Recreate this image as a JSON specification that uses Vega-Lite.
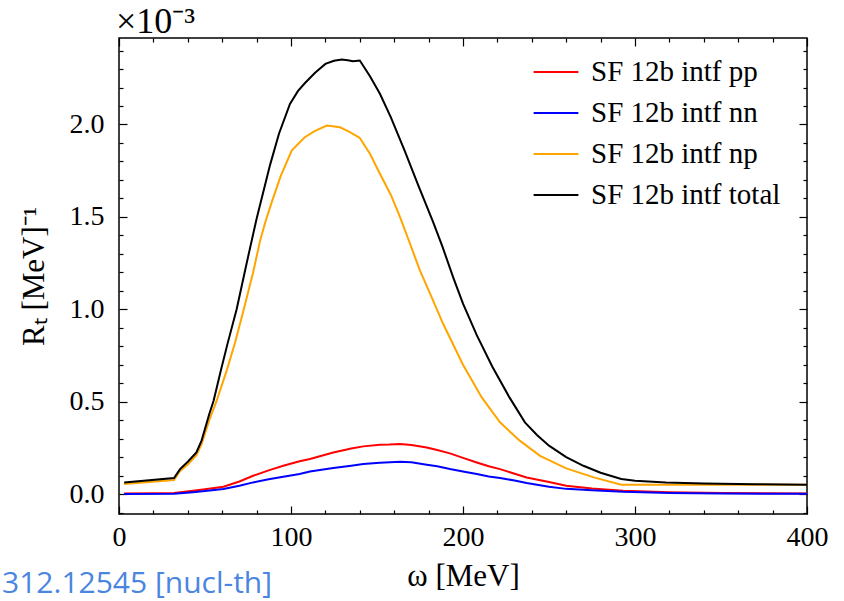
{
  "$schema": "https://vega.github.io/schema/vega-lite/v6.json",
  "width": 688,
  "height": 476,
  "autosize": "none",
  "padding": {"left": 119, "top": 38, "right": 37, "bottom": 87},
  "background": "white",
  "config": {
    "view": {"stroke": "#000", "strokeWidth": 1.5},
    "font": "Liberation Serif",
    "axis": {"domain": false, "grid": false, "tickColor": "#000", "tickWidth": 1.2, "labelColor": "#000", "titleColor": "#000", "labelFont": "Liberation Serif", "titleFont": "Liberation Serif", "labelFontSize": 28, "titleFontSize": 31, "titleFontWeight": "normal", "labelOverlap": false, "labelFlush": false}
  },
  "title": {"text": "×10⁻³", "anchor": "start", "frame": "group", "offset": -4, "dx": -3, "font": "Liberation Serif", "fontSize": 36, "fontWeight": "normal", "color": "#000"},
  "data": {"values": [
    {"s": "SF 12b intf pp", "w": 3, "R": 0.003},
    {"s": "SF 12b intf pp", "w": 20, "R": 0.004},
    {"s": "SF 12b intf pp", "w": 32, "R": 0.006},
    {"s": "SF 12b intf pp", "w": 43, "R": 0.018},
    {"s": "SF 12b intf pp", "w": 50, "R": 0.026},
    {"s": "SF 12b intf pp", "w": 60.7, "R": 0.04},
    {"s": "SF 12b intf pp", "w": 70, "R": 0.068},
    {"s": "SF 12b intf pp", "w": 78, "R": 0.099},
    {"s": "SF 12b intf pp", "w": 87, "R": 0.128},
    {"s": "SF 12b intf pp", "w": 95.5, "R": 0.153},
    {"s": "SF 12b intf pp", "w": 105, "R": 0.177},
    {"s": "SF 12b intf pp", "w": 111, "R": 0.19},
    {"s": "SF 12b intf pp", "w": 124.6, "R": 0.225},
    {"s": "SF 12b intf pp", "w": 135, "R": 0.246},
    {"s": "SF 12b intf pp", "w": 142, "R": 0.258},
    {"s": "SF 12b intf pp", "w": 151.7, "R": 0.267},
    {"s": "SF 12b intf pp", "w": 157, "R": 0.268},
    {"s": "SF 12b intf pp", "w": 163.4, "R": 0.271},
    {"s": "SF 12b intf pp", "w": 170, "R": 0.265},
    {"s": "SF 12b intf pp", "w": 178.9, "R": 0.252},
    {"s": "SF 12b intf pp", "w": 185, "R": 0.238},
    {"s": "SF 12b intf pp", "w": 192.4, "R": 0.22},
    {"s": "SF 12b intf pp", "w": 200, "R": 0.196},
    {"s": "SF 12b intf pp", "w": 208, "R": 0.171},
    {"s": "SF 12b intf pp", "w": 215, "R": 0.15},
    {"s": "SF 12b intf pp", "w": 221.5, "R": 0.135},
    {"s": "SF 12b intf pp", "w": 230, "R": 0.11},
    {"s": "SF 12b intf pp", "w": 237, "R": 0.09},
    {"s": "SF 12b intf pp", "w": 250, "R": 0.065},
    {"s": "SF 12b intf pp", "w": 260, "R": 0.045},
    {"s": "SF 12b intf pp", "w": 275, "R": 0.03},
    {"s": "SF 12b intf pp", "w": 293, "R": 0.018},
    {"s": "SF 12b intf pp", "w": 320, "R": 0.01},
    {"s": "SF 12b intf pp", "w": 350, "R": 0.005},
    {"s": "SF 12b intf pp", "w": 400, "R": 0.003},
    {"s": "SF 12b intf nn", "w": 3, "R": 0.0},
    {"s": "SF 12b intf nn", "w": 32, "R": 0.002},
    {"s": "SF 12b intf nn", "w": 43, "R": 0.01},
    {"s": "SF 12b intf nn", "w": 50, "R": 0.016},
    {"s": "SF 12b intf nn", "w": 60.7, "R": 0.027},
    {"s": "SF 12b intf nn", "w": 70, "R": 0.045},
    {"s": "SF 12b intf nn", "w": 78, "R": 0.063},
    {"s": "SF 12b intf nn", "w": 87, "R": 0.08},
    {"s": "SF 12b intf nn", "w": 95.5, "R": 0.094},
    {"s": "SF 12b intf nn", "w": 105, "R": 0.108},
    {"s": "SF 12b intf nn", "w": 111, "R": 0.122},
    {"s": "SF 12b intf nn", "w": 124.6, "R": 0.141},
    {"s": "SF 12b intf nn", "w": 135, "R": 0.153},
    {"s": "SF 12b intf nn", "w": 142, "R": 0.162},
    {"s": "SF 12b intf nn", "w": 151.7, "R": 0.169},
    {"s": "SF 12b intf nn", "w": 163.4, "R": 0.175},
    {"s": "SF 12b intf nn", "w": 170, "R": 0.172},
    {"s": "SF 12b intf nn", "w": 178.9, "R": 0.159},
    {"s": "SF 12b intf nn", "w": 185, "R": 0.15},
    {"s": "SF 12b intf nn", "w": 192.4, "R": 0.135},
    {"s": "SF 12b intf nn", "w": 200, "R": 0.122},
    {"s": "SF 12b intf nn", "w": 208, "R": 0.108},
    {"s": "SF 12b intf nn", "w": 215, "R": 0.095},
    {"s": "SF 12b intf nn", "w": 221.5, "R": 0.087},
    {"s": "SF 12b intf nn", "w": 230, "R": 0.073},
    {"s": "SF 12b intf nn", "w": 237, "R": 0.06},
    {"s": "SF 12b intf nn", "w": 250, "R": 0.04},
    {"s": "SF 12b intf nn", "w": 260, "R": 0.028},
    {"s": "SF 12b intf nn", "w": 275, "R": 0.02},
    {"s": "SF 12b intf nn", "w": 293, "R": 0.012},
    {"s": "SF 12b intf nn", "w": 320, "R": 0.006},
    {"s": "SF 12b intf nn", "w": 350, "R": 0.003},
    {"s": "SF 12b intf nn", "w": 400, "R": 0.001},
    {"s": "SF 12b intf np", "w": 3, "R": 0.054},
    {"s": "SF 12b intf np", "w": 32, "R": 0.076},
    {"s": "SF 12b intf np", "w": 35.5, "R": 0.125},
    {"s": "SF 12b intf np", "w": 40, "R": 0.16},
    {"s": "SF 12b intf np", "w": 45, "R": 0.21},
    {"s": "SF 12b intf np", "w": 48, "R": 0.27},
    {"s": "SF 12b intf np", "w": 52.5, "R": 0.4},
    {"s": "SF 12b intf np", "w": 56.8, "R": 0.505},
    {"s": "SF 12b intf np", "w": 62.6, "R": 0.668},
    {"s": "SF 12b intf np", "w": 67.5, "R": 0.82},
    {"s": "SF 12b intf np", "w": 72.3, "R": 0.99},
    {"s": "SF 12b intf np", "w": 78, "R": 1.2},
    {"s": "SF 12b intf np", "w": 82, "R": 1.37},
    {"s": "SF 12b intf np", "w": 85, "R": 1.47},
    {"s": "SF 12b intf np", "w": 88.8, "R": 1.58},
    {"s": "SF 12b intf np", "w": 94, "R": 1.72},
    {"s": "SF 12b intf np", "w": 100.4, "R": 1.859},
    {"s": "SF 12b intf np", "w": 108, "R": 1.931},
    {"s": "SF 12b intf np", "w": 114, "R": 1.965},
    {"s": "SF 12b intf np", "w": 120.8, "R": 1.994},
    {"s": "SF 12b intf np", "w": 128.5, "R": 1.985},
    {"s": "SF 12b intf np", "w": 134, "R": 1.96},
    {"s": "SF 12b intf np", "w": 140, "R": 1.927},
    {"s": "SF 12b intf np", "w": 146, "R": 1.84},
    {"s": "SF 12b intf np", "w": 151.7, "R": 1.733},
    {"s": "SF 12b intf np", "w": 158, "R": 1.62},
    {"s": "SF 12b intf np", "w": 163.4, "R": 1.498},
    {"s": "SF 12b intf np", "w": 169, "R": 1.36},
    {"s": "SF 12b intf np", "w": 175, "R": 1.209},
    {"s": "SF 12b intf np", "w": 182, "R": 1.06},
    {"s": "SF 12b intf np", "w": 188.5, "R": 0.92},
    {"s": "SF 12b intf np", "w": 200, "R": 0.7},
    {"s": "SF 12b intf np", "w": 210.9, "R": 0.523},
    {"s": "SF 12b intf np", "w": 221.5, "R": 0.388},
    {"s": "SF 12b intf np", "w": 233, "R": 0.289},
    {"s": "SF 12b intf np", "w": 244.8, "R": 0.207},
    {"s": "SF 12b intf np", "w": 260, "R": 0.139},
    {"s": "SF 12b intf np", "w": 276, "R": 0.09},
    {"s": "SF 12b intf np", "w": 292, "R": 0.05},
    {"s": "SF 12b intf np", "w": 300, "R": 0.05},
    {"s": "SF 12b intf np", "w": 400, "R": 0.05},
    {"s": "SF 12b intf total", "w": 3, "R": 0.063},
    {"s": "SF 12b intf total", "w": 32, "R": 0.087},
    {"s": "SF 12b intf total", "w": 35.5, "R": 0.135},
    {"s": "SF 12b intf total", "w": 40, "R": 0.175},
    {"s": "SF 12b intf total", "w": 45, "R": 0.225},
    {"s": "SF 12b intf total", "w": 48, "R": 0.289},
    {"s": "SF 12b intf total", "w": 52.5, "R": 0.433},
    {"s": "SF 12b intf total", "w": 55, "R": 0.505},
    {"s": "SF 12b intf total", "w": 59, "R": 0.66},
    {"s": "SF 12b intf total", "w": 63, "R": 0.81},
    {"s": "SF 12b intf total", "w": 68.4, "R": 1.0},
    {"s": "SF 12b intf total", "w": 74, "R": 1.24},
    {"s": "SF 12b intf total", "w": 80, "R": 1.49},
    {"s": "SF 12b intf total", "w": 87.8, "R": 1.78},
    {"s": "SF 12b intf total", "w": 93, "R": 1.95},
    {"s": "SF 12b intf total", "w": 99.4, "R": 2.111},
    {"s": "SF 12b intf total", "w": 104, "R": 2.18},
    {"s": "SF 12b intf total", "w": 108, "R": 2.223},
    {"s": "SF 12b intf total", "w": 114, "R": 2.28},
    {"s": "SF 12b intf total", "w": 120, "R": 2.328},
    {"s": "SF 12b intf total", "w": 125, "R": 2.345},
    {"s": "SF 12b intf total", "w": 129.5, "R": 2.351},
    {"s": "SF 12b intf total", "w": 133, "R": 2.348},
    {"s": "SF 12b intf total", "w": 136, "R": 2.342},
    {"s": "SF 12b intf total", "w": 140, "R": 2.346},
    {"s": "SF 12b intf total", "w": 146, "R": 2.26},
    {"s": "SF 12b intf total", "w": 151.7, "R": 2.166},
    {"s": "SF 12b intf total", "w": 158, "R": 2.04},
    {"s": "SF 12b intf total", "w": 166, "R": 1.86},
    {"s": "SF 12b intf total", "w": 174, "R": 1.67},
    {"s": "SF 12b intf total", "w": 182.7, "R": 1.47},
    {"s": "SF 12b intf total", "w": 188, "R": 1.34},
    {"s": "SF 12b intf total", "w": 194.4, "R": 1.17},
    {"s": "SF 12b intf total", "w": 200, "R": 1.03},
    {"s": "SF 12b intf total", "w": 208, "R": 0.86},
    {"s": "SF 12b intf total", "w": 217, "R": 0.69},
    {"s": "SF 12b intf total", "w": 227, "R": 0.523},
    {"s": "SF 12b intf total", "w": 236, "R": 0.388},
    {"s": "SF 12b intf total", "w": 243, "R": 0.32},
    {"s": "SF 12b intf total", "w": 250, "R": 0.262},
    {"s": "SF 12b intf total", "w": 260, "R": 0.2},
    {"s": "SF 12b intf total", "w": 270, "R": 0.153},
    {"s": "SF 12b intf total", "w": 280, "R": 0.115},
    {"s": "SF 12b intf total", "w": 292, "R": 0.081},
    {"s": "SF 12b intf total", "w": 300, "R": 0.072},
    {"s": "SF 12b intf total", "w": 318, "R": 0.063},
    {"s": "SF 12b intf total", "w": 340, "R": 0.057},
    {"s": "SF 12b intf total", "w": 370, "R": 0.053},
    {"s": "SF 12b intf total", "w": 400, "R": 0.05}
  ]},
  "resolve": {"axis": {"x": "independent", "y": "independent"}},
  "layer": [
    {
      "mark": {"type": "line", "strokeWidth": 2, "clip": true},
      "encoding": {
        "x": {"field": "w", "type": "quantitative", "scale": {"domain": [0, 400], "nice": false, "zero": false},
              "axis": {"orient": "bottom", "values": [0, 100, 200, 300, 400], "offset": -8, "tickSize": 8, "labelPadding": 9, "title": "ω [MeV]", "titlePadding": 10}},
        "y": {"field": "R", "type": "quantitative", "scale": {"domain": [-0.108, 2.468], "nice": false, "zero": false},
              "axis": {"orient": "left", "values": [0, 0.5, 1, 1.5, 2], "format": ".1f", "offset": -8, "tickSize": 8, "labelPadding": 15, "title": "Rₜ [MeV]⁻¹", "titlePadding": 19}},
        "color": {"field": "s", "type": "nominal", "sort": ["SF 12b intf pp", "SF 12b intf nn", "SF 12b intf np", "SF 12b intf total"],
                  "scale": {"domain": ["SF 12b intf pp", "SF 12b intf nn", "SF 12b intf np", "SF 12b intf total"], "range": ["#ff0000", "#0000ff", "#ffa500", "#000000"]},
                  "legend": {"title": null, "orient": "none", "legendX": 422, "legendY": 19, "symbolType": "M-1.6,0H1.6", "symbolSize": 784, "symbolStrokeWidth": 2, "labelFont": "Liberation Serif", "labelFontSize": 29, "labelColor": "#000", "labelOffset": 20, "labelLimit": 0, "rowPadding": 11, "padding": 0}}
      }
    },
    {
      "mark": {"type": "point", "opacity": 0},
      "encoding": {
        "x": {"field": "w", "type": "quantitative", "scale": {"domain": [0, 400], "nice": false, "zero": false},
              "axis": {"orient": "bottom", "values": [20, 40, 60, 80, 120, 140, 160, 180, 220, 240, 260, 280, 320, 340, 360, 380], "offset": -4, "tickSize": 4, "labels": false, "title": null}},
        "y": {"field": "R", "type": "quantitative", "scale": {"domain": [-0.108, 2.468], "nice": false, "zero": false},
              "axis": {"orient": "left", "values": [-0.1, 0.1, 0.2, 0.3, 0.4, 0.6, 0.7, 0.8, 0.9, 1.1, 1.2, 1.3, 1.4, 1.6, 1.7, 1.8, 1.9, 2.1, 2.2, 2.3, 2.4], "offset": -4, "tickSize": 4, "labels": false, "title": null}}
      }
    },
    {
      "mark": {"type": "point", "opacity": 0},
      "encoding": {
        "x": {"field": "w", "type": "quantitative", "scale": {"domain": [0, 400], "nice": false, "zero": false},
              "axis": {"orient": "top", "values": [0, 100, 200, 300, 400], "offset": -8, "tickSize": 8, "labels": false, "title": null}},
        "y": {"field": "R", "type": "quantitative", "scale": {"domain": [-0.108, 2.468], "nice": false, "zero": false},
              "axis": {"orient": "right", "values": [0, 0.5, 1, 1.5, 2], "offset": -8, "tickSize": 8, "labels": false, "title": null}}
      }
    },
    {
      "mark": {"type": "point", "opacity": 0},
      "encoding": {
        "x": {"field": "w", "type": "quantitative", "scale": {"domain": [0, 400], "nice": false, "zero": false},
              "axis": {"orient": "top", "values": [20, 40, 60, 80, 120, 140, 160, 180, 220, 240, 260, 280, 320, 340, 360, 380], "offset": -4, "tickSize": 4, "labels": false, "title": null}},
        "y": {"field": "R", "type": "quantitative", "scale": {"domain": [-0.108, 2.468], "nice": false, "zero": false},
              "axis": {"orient": "right", "values": [-0.1, 0.1, 0.2, 0.3, 0.4, 0.6, 0.7, 0.8, 0.9, 1.1, 1.2, 1.3, 1.4, 1.6, 1.7, 1.8, 1.9, 2.1, 2.2, 2.3, 2.4], "offset": -4, "tickSize": 4, "labels": false, "title": null}}
      }
    },
    {
      "data": {"values": [{"label": "312.12545 [nucl-th]"}]},
      "mark": {"type": "text", "align": "left", "baseline": "alphabetic", "font": "Open Sans", "fontSize": 30, "color": "#4a86e0"},
      "encoding": {
        "x": {"datum": -68, "type": "quantitative", "scale": {"domain": [0, 400], "nice": false, "zero": false}, "axis": null},
        "y": {"datum": -0.538, "type": "quantitative", "scale": {"domain": [-0.108, 2.468], "nice": false, "zero": false}, "axis": null},
        "text": {"field": "label"}
      }
    }
  ]
}
